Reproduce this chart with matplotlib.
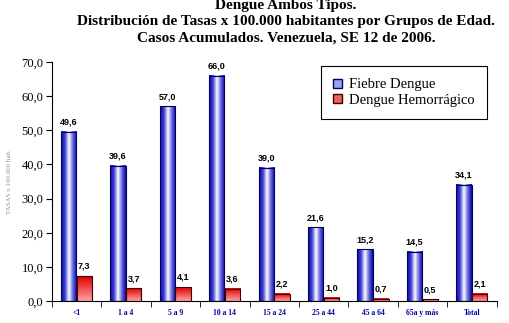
import numpy as np
import matplotlib
matplotlib.use("Agg")
import matplotlib.pyplot as plt
from matplotlib.colors import LinearSegmentedColormap
from matplotlib.patches import Patch

grupos = ["<1", "1 a 4", "5 a 9", "10 a 14", "15 a 24", "25 a 44", "45 a 64", "65a y más", "Total"]
fiebre = [49.6, 39.6, 57.0, 66.0, 39.0, 21.6, 15.2, 14.5, 34.1]
hemorragico = [7.3, 3.7, 4.1, 3.6, 2.2, 1.0, 0.7, 0.5, 2.1]

serif = "Liberation Serif"
fig = plt.figure(figsize=(5.09, 3.23), dpi=100)
ax = fig.add_axes([0.102, 0.068, 0.874, 0.74])

blue_cm = LinearSegmentedColormap.from_list("b", ["#0808a0", "#4040d8", "#ffffff", "#6868e0", "#0808a0"])
red_cm = LinearSegmentedColormap.from_list("r", ["#ffa0a0", "#e00000"])
hgrad = np.linspace(0, 1, 64).reshape(1, -1)
vgrad = np.linspace(0, 1, 64).reshape(-1, 1)

x = np.arange(len(grupos))
w = 0.31
for i in range(len(grupos)):
    xb = x[i] - 0.32
    ax.imshow(hgrad, cmap=blue_cm, extent=[xb, xb + w, 0, fiebre[i]], aspect="auto", origin="lower", zorder=2)
    ax.bar(xb, fiebre[i], w, align="edge", facecolor="none", edgecolor="#000060", linewidth=0.8, zorder=3)
    xr = x[i] + 0.0
    ax.imshow(vgrad, cmap=red_cm, extent=[xr, xr + w, 0, hemorragico[i]], aspect="auto", origin="lower", zorder=2)
    ax.bar(xr, hemorragico[i], w, align="edge", facecolor="none", edgecolor="#400000", linewidth=0.8, zorder=3)
    ax.text(xb + w / 2, fiebre[i] + 1.5, f"{fiebre[i]:.1f}".replace(".", ","), ha="center", va="bottom",
            fontsize=6.5, fontweight="bold", family="Liberation Sans")
    ax.text(xr + w / 2, hemorragico[i] + 1.5, f"{hemorragico[i]:.1f}".replace(".", ","), ha="center", va="bottom",
            fontsize=6.5, fontweight="bold", family="Liberation Sans")

ax.set_xlim(-0.5, len(grupos) - 0.5)
ax.set_ylim(0, 70)
ax.set_yticks(np.arange(0, 71, 10))
ax.set_yticklabels([f"{v:.1f}".replace(".", ",") for v in np.arange(0, 71, 10)], family=serif, fontsize=9)
ax.set_xticks(x)
ax.set_xticklabels(grupos, family=serif, fontsize=5.5, fontweight="bold", color="#0000a0")
ax.set_xticks(np.arange(-0.5, len(grupos), 1), minor=True)
ax.tick_params(axis="x", which="major", length=0, pad=6)
ax.tick_params(axis="x", which="minor", length=4, direction="out")
ax.tick_params(axis="y", length=4, direction="out", pad=2)
for s in ["top", "right"]:
    ax.spines[s].set_visible(False)
ax.set_ylabel("TASAS x 100.000 hab.", family=serif, fontsize=5, color="#909090", labelpad=7)

handles = [Patch(facecolor="#a0a0f0", edgecolor="#000060"), Patch(facecolor="#f06060", edgecolor="#400000")]
leg = ax.legend(handles, ["Fiebre Dengue", "Dengue Hemorrágico"], loc="upper right", bbox_to_anchor=(0.978, 0.983),
                borderaxespad=0, prop={"family": serif, "size": 10.5}, fancybox=False, edgecolor="black",
                framealpha=1, handlelength=0.6, handleheight=0.6, handletextpad=0.5, borderpad=0.85,
                labelspacing=0.15)
leg.get_frame().set_linewidth(0.8)

fig.text(0.562, 0.932, "Dengue Ambos Tipos.\nDistribución de Tasas x 100.000 habitantes por Grupos de Edad.\nCasos Acumulados. Venezuela, SE 12 de 2006.",
         ha="center", va="center", family=serif, fontsize=11, fontweight="bold", linespacing=1.3)

fig.savefig("out.png", dpi=100)
